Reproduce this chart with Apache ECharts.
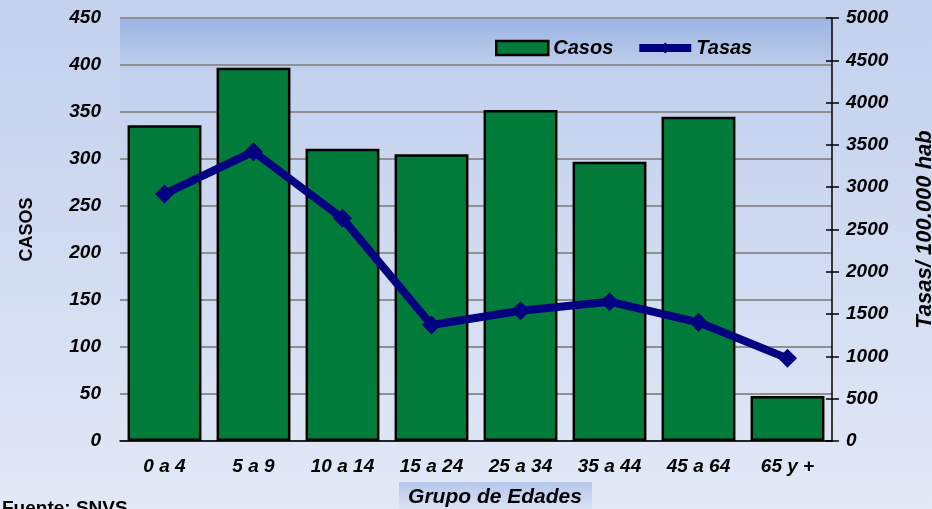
<!DOCTYPE html>
<html>
<head>
<meta charset="utf-8">
<script src="https://cdn.jsdelivr.net/npm/echarts@6/dist/echarts.min.js"></script>
<style>
  html, body { margin: 0; padding: 0; }
  #chart {
    width: 932px; height: 509px;
    background: linear-gradient(to bottom, #c3d1ee 0%, #d3ddf2 55%, #e2e9f6 100%);
  }
</style>
</head>
<body>
<div id="chart"></div>
<script>
// datos
const grupos = ['0 a 4', '5 a 9', '10 a 14', '15 a 24', '25 a 34', '35 a 44', '45 a 64', '65 y +']
const casos = [336, 397, 311, 305, 352, 297, 345, 48]
const tasas = [2920, 3420, 2632, 1371, 1540, 1647, 1403, 977]

const fuente = 'Liberation Sans, Arial, sans-serif'
const labelStyle = { fontFamily: fuente, fontWeight: 'bold', fontStyle: 'italic', fontSize: 19, color: '#000' }

const chart = echarts.init(document.getElementById('chart'))

const option = {
  backgroundColor: 'transparent',
  animation: false,
  grid: {
    left: 120,
    right: 100,
    top: 18,
    bottom: 68,
    containLabel: false,
    outerBoundsMode: 'none',
    show: true,
    borderWidth: 0,
    backgroundColor: new echarts.graphic.LinearGradient(0, 0, 0, 1, [
      { offset: 0, color: '#9bb4e2' },
      { offset: 0.13, color: '#c3d1ee' },
      { offset: 1, color: '#dee5f5' }
    ])
  },
  legend: {
    top: 33,
    left: 490,
    itemGap: 22,
    itemWidth: 52,
    itemHeight: 14,
    textStyle: { fontFamily: fuente, fontWeight: 'bold', fontStyle: 'italic', fontSize: 20, color: '#000' },
    data: [
      { name: 'Casos', icon: 'rect', itemStyle: { borderColor: '#000', borderWidth: 2.5 } },
      { name: 'Tasas', lineStyle: { width: 8, color: '#000080' } }
    ]
  },
  xAxis: {
    type: 'category',
    data: grupos,
    axisLine: { lineStyle: { color: '#000', width: 1.5 } },
    axisTick: { show: false },
    axisLabel: Object.assign({ margin: 16 }, labelStyle)
  },
  yAxis: [
    {
      type: 'value',
      min: 0, max: 450, interval: 50,
      name: 'CASOS',
      nameLocation: 'middle',
      nameRotate: 90,
      nameGap: 84,
      nameTextStyle: { fontFamily: fuente, fontWeight: 'bold', fontSize: 18, color: '#000' },
      axisLine: { show: false },
      axisTick: { show: false },
      axisLabel: Object.assign({ margin: 19 }, labelStyle),
      splitLine: { lineStyle: { color: '#8e9094', width: 2 } }
    },
    {
      type: 'value',
      position: 'right',
      min: 0, max: 5000, interval: 500,
      name: 'Tasas/ 100.000 hab',
      nameLocation: 'middle',
      nameRotate: 90,
      nameGap: 82,
      nameTextStyle: { fontFamily: fuente, fontWeight: 'bold', fontStyle: 'italic', fontSize: 22, color: '#000' },
      axisLine: { show: true, lineStyle: { color: '#000', width: 1.5 } },
      axisTick: { show: true, length: 7, lineStyle: { color: '#000', width: 1.5 } },
      axisLabel: Object.assign({ margin: 14, formatter: (v) => String(v) }, labelStyle),
      splitLine: { show: false }
    },
    {
      // solo para las marcas hacia adentro del eje derecho
      type: 'value',
      position: 'right',
      min: 0, max: 5000, interval: 500,
      axisLine: { show: false },
      axisTick: { show: true, inside: true, length: 6, lineStyle: { color: '#000', width: 1.5 } },
      axisLabel: { show: false },
      splitLine: { show: false }
    }
  ],
  series: [
    {
      name: 'Casos',
      type: 'bar',
      yAxisIndex: 0,
      barCategoryGap: '17%',
      itemStyle: { color: '#007b3a', borderColor: '#000', borderWidth: 2.5 },
      data: casos
    },
    {
      name: 'Tasas',
      type: 'line',
      yAxisIndex: 1,
      symbol: 'diamond',
      symbolSize: 19,
      lineStyle: { color: '#000080', width: 8 },
      itemStyle: { color: '#000080' },
      data: tasas
    }
  ],
  graphic: [
    {
      // titulo del eje X en su recuadro
      type: 'rect',
      left: 399,
      top: 482,
      shape: { width: 193, height: 28 },
      style: {
        fill: new echarts.graphic.LinearGradient(0, 0, 0, 1, [
          { offset: 0, color: '#b3c6ea' },
          { offset: 1, color: '#dce4f5' }
        ])
      }
    },
    {
      type: 'text',
      x: 495,
      y: 497,
      style: {
        text: 'Grupo de Edades', align: 'center', verticalAlign: 'middle',
        fontFamily: fuente, fontWeight: 'bold', fontStyle: 'italic', fontSize: 21, fill: '#000'
      }
    },
    {
      type: 'text',
      left: 2,
      top: 499,
      style: { text: 'Fuente: SNVS', fontFamily: fuente, fontWeight: 'bold', fontSize: 19, fill: '#000' }
    }
  ]
}

chart.setOption(option)
</script>
</body>
</html>
